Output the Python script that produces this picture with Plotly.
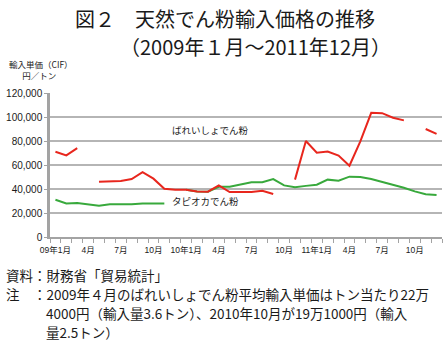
import plotly.graph_objects as go

# ---- data (yen / ton), Jan 2009 .. Dec 2011 ----
months = list(range(36))
potato = [71000, 68000, 74000, None, 46000, 46500, 46700, 48300, 54000, 48600, 40200, 39300,
          39400, 38000, 37800, 43000, 37500, 37500, 37500, 38600, 35900, None, 47800, 80000,
          70300, 71200, 67800, 59400, 79700, 103500, 103200, 99400, 97200, None, 90000, 85900]
tapioca = [31000, 28000, 28300, 27000, 26100, 27200, 27000, 27200, 28000, 28000, 28000, None,
           39400, 38000, 37800, 41800, 41900, 43700, 45700, 45700, 48300, 43000, 41500, 42600,
           43600, 47800, 46900, 50300, 50000, 48300, 46100, 43900, 41100, 38000, 35600, 35000]
tick_pos = [0, 3, 6, 9, 12, 15, 18, 21, 24, 27, 30, 33]
tick_text = ["09年1月", "4月", "7月", "10月", "10年1月", "4月", "7月", "10月",
             "11年1月", "4月", "7月", "10月"]
y_ticks = [0, 20000, 40000, 60000, 80000, 100000, 120000]

RED = "#e8261d"
GREEN = "#38a93c"
GRID = "#b5b5b5"
AXIS = "#a3a3a3"
CJK = "Noto Sans CJK JP"
LAT = "Liberation Sans, Noto Sans CJK JP"

W, H = 447, 350
L, R, T, B = 50, 5, 93, 113
PW, PH = W - L - R, H - T - B


def px(x):
    return (x - L) / PW


def py(y):
    return (H - B - y) / PH


fig = go.Figure()
fig.add_trace(go.Scatter(x=months, y=tapioca, mode="lines",
                         line=dict(color=GREEN, width=2), hoverinfo="skip"))
fig.add_trace(go.Scatter(x=months, y=potato, mode="lines",
                         line=dict(color=RED, width=2), hoverinfo="skip"))

ann = []


def text(x, y, s, size, family=CJK, anchor="left", color="#1a1a1a"):
    ann.append(dict(x=px(x), y=py(y), xref="paper", yref="paper", text=s,
                    showarrow=False, xanchor=anchor, yanchor="middle", align="left",
                    font=dict(family=family, size=size, color=color)))


text(73, 18.5, "図２　天然でん粉輸入価格の推移", 20)
text(118, 46, "（2009年１月～2011年12月）", 20)
text(7, 70, "輸入単価（CIF）<br>\u00a0\u00a0\u00a0\u00a0\u00a0\u00a0\u00a0円／トン", 8.5)
text(170, 130, "ばれいしょでん粉", 9.5)
text(170, 201, "タピオカでん粉", 9.5)
text(4, 275, "資料：財務省「貿易統計」", 13.5)
text(4, 294, "注　：2009年４月のばれいしょでん粉平均輸入単価はトン当たり22万", 13.5)
text(44, 313, "4000円（輸入量3.6トン）、2010年10月が19万1000円（輸入", 13.5)
text(44, 332, "量2.5トン）", 13.5)

fig.update_layout(
    width=W, height=H,
    margin=dict(l=L, r=R, t=T, b=B, pad=0),
    paper_bgcolor="white", plot_bgcolor="white",
    showlegend=False,
    annotations=ann,
    xaxis=dict(range=[-0.5, 35.5], tickmode="array", tickvals=tick_pos, ticktext=tick_text,
               ticks="outside", ticklen=4, tickcolor="rgba(0,0,0,0)",
               showline=True, linecolor=AXIS, linewidth=2, showgrid=False, zeroline=False,
               tickfont=dict(family=LAT, size=8.5, color="#1a1a1a"),
               minor=dict(tickmode="linear", tick0=-0.5, dtick=1, ticks="outside",
                          ticklen=4, tickwidth=1, tickcolor=AXIS, showgrid=False)),
    yaxis=dict(range=[0, 120000], tickmode="array", tickvals=y_ticks, tickformat=",",
               showgrid=True, gridcolor=GRID, gridwidth=1.5,
               showline=True, linecolor=AXIS, linewidth=2.5, zeroline=False,
               ticks="outside", ticklen=3, tickcolor=AXIS,
               tickfont=dict(family=LAT, size=10, color="#1a1a1a")),
)

fig.write_html("out.html")
